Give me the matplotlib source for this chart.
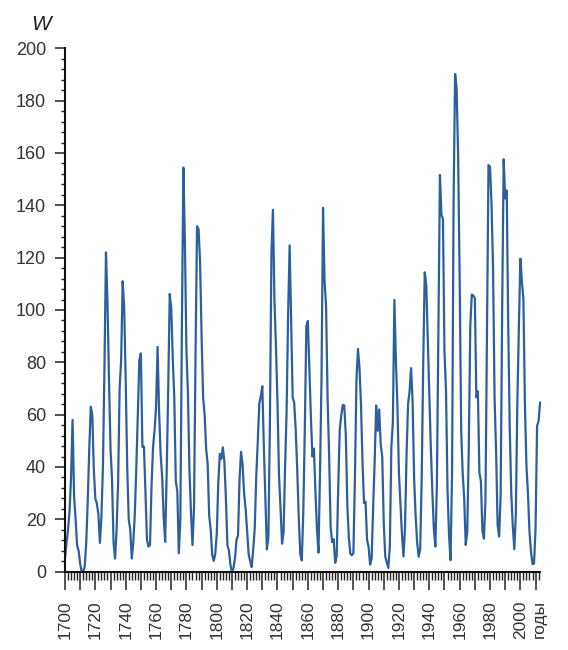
import matplotlib
matplotlib.use("Agg")
import matplotlib.pyplot as plt
from matplotlib.ticker import MultipleLocator, FixedLocator, FixedFormatter

plt.rcParams['font.family'] = ['Liberation Sans', 'DejaVu Sans']

# Yearly Wolf numbers W, 1700-2013
years = list(range(1700, 2014))
wolf = [
    5.0, 11.0, 16.0, 23.0, 36.0, 58.0, 29.0, 20.0, 10.0, 8.0,
    3.0, 0.0, 0.0, 2.0, 11.0, 27.0, 47.0, 63.0, 60.0, 39.0,
    28.0, 26.0, 22.0, 11.0, 21.0, 40.0, 78.0, 122.0, 103.0, 73.0,
    47.0, 35.0, 11.0, 5.0, 16.0, 34.0, 70.0, 81.0, 111.0, 101.0,
    73.0, 40.0, 20.0, 16.0, 5.0, 11.0, 22.0, 40.0, 60.0, 80.9,
    83.4, 47.7, 47.8, 30.7, 12.2, 9.6, 10.2, 32.4, 47.6, 54.0,
    62.9, 85.9, 61.2, 45.1, 36.4, 20.9, 11.4, 37.8, 69.8, 106.1,
    100.8, 81.6, 66.5, 34.8, 30.6, 7.0, 19.8, 92.5, 154.4, 125.9,
    84.8, 68.1, 38.5, 22.8, 10.2, 24.1, 82.9, 132.0, 130.9, 118.1,
    89.9, 66.6, 60.0, 46.9, 41.0, 21.3, 16.0, 6.4, 4.1, 6.8,
    14.5, 34.0, 45.0, 43.1, 47.5, 42.2, 28.1, 10.1, 8.1, 2.5,
    0.0, 1.4, 5.0, 12.2, 13.9, 35.4, 45.8, 41.0, 30.1, 23.9,
    15.6, 6.6, 4.0, 1.8, 8.5, 16.6, 36.3, 49.6, 64.2, 67.0,
    70.9, 47.8, 27.5, 8.5, 13.2, 56.9, 121.5, 138.3, 103.2, 85.7,
    64.6, 36.7, 24.2, 10.7, 15.0, 40.1, 61.5, 98.5, 124.7, 96.3,
    66.6, 64.5, 54.1, 39.0, 20.6, 6.7, 4.3, 22.7, 54.8, 93.8,
    95.8, 77.2, 59.1, 44.0, 47.0, 30.5, 16.3, 7.3, 37.6, 74.0,
    139.0, 111.2, 101.6, 66.2, 44.7, 17.0, 11.3, 12.4, 3.4, 6.0,
    32.3, 54.3, 59.7, 63.7, 63.5, 52.2, 25.4, 13.1, 6.8, 6.3,
    7.1, 35.6, 73.0, 85.1, 78.0, 64.0, 41.8, 26.2, 26.7, 12.1,
    9.5, 2.7, 5.0, 24.4, 42.0, 63.5, 53.8, 62.0, 48.5, 43.9,
    18.6, 5.7, 3.6, 1.4, 9.6, 47.4, 57.1, 103.9, 80.6, 63.6,
    37.6, 26.1, 14.2, 5.8, 16.7, 44.3, 63.9, 69.0, 77.8, 64.9,
    35.7, 21.2, 11.1, 5.7, 8.7, 36.1, 79.7, 114.4, 109.6, 88.8,
    67.8, 47.5, 30.6, 16.3, 9.6, 33.2, 92.6, 151.6, 136.3, 134.7,
    83.9, 69.4, 31.5, 13.9, 4.4, 38.0, 141.7, 190.2, 184.8, 159.0,
    112.3, 53.9, 37.6, 27.9, 10.2, 15.1, 47.0, 93.8, 105.9, 105.5,
    104.5, 66.6, 68.9, 38.0, 34.5, 15.5, 12.6, 27.5, 92.5, 155.4,
    154.7, 140.5, 115.9, 66.6, 45.9, 17.9, 13.4, 29.4, 100.2, 157.6,
    142.6, 145.7, 94.3, 54.6, 29.9, 17.5, 8.6, 21.5, 64.3, 93.3,
    119.6, 111.0, 104.0, 63.7, 40.4, 29.8, 15.2, 7.5, 2.9, 3.1,
    16.5, 55.7, 57.6, 64.7,
]

# decade ticks, labels every 20 years; the last tick carries the unit
x_ticks = list(range(1700, 2011, 10))
x_labels = [str(y) if y % 20 == 0 else "" for y in range(1700, 2011, 10)]
unit_year = 2010
unit_label = "годы"

fig = plt.figure(figsize=(5.68, 6.5), dpi=100)
ax = fig.add_axes([0.1144, 0.1205, 0.8365, 0.8052])

ax.plot(years, wolf, color="#2d5f9e", lw=1.6, clip_on=False,
        solid_joinstyle="round", solid_capstyle="round")

ax.set_xlim(1700, 2013)
ax.set_ylim(0, 200)

for s in ["top", "right"]:
    ax.spines[s].set_visible(False)
for s in ["left", "bottom"]:
    ax.spines[s].set_linewidth(1.5)
    ax.spines[s].set_color("#111111")

ax.yaxis.set_major_locator(MultipleLocator(20))
ax.yaxis.set_minor_locator(MultipleLocator(4))
ax.xaxis.set_major_locator(FixedLocator(x_ticks))
ax.xaxis.set_major_formatter(FixedFormatter(x_labels))
ax.xaxis.set_minor_locator(MultipleLocator(2))

ax.tick_params(axis="both", which="both", direction="out", color="#222222")
ax.tick_params(axis="both", which="major", labelcolor="#333333", width=1.1)
ax.tick_params(axis="y", which="major", length=7.2, pad=6.5, labelsize=13)
ax.tick_params(axis="y", which="minor", length=3.2, width=1.0)
ax.tick_params(axis="x", which="major", length=13, pad=7.5, labelrotation=90,
               labelsize=12.5)
ax.tick_params(axis="x", which="minor", length=5.8, width=1.0)

# unit label under the last tick, nudged a little to the right
ax.annotate(unit_label, xy=(unit_year, 0), xycoords=("data", "axes fraction"),
            xytext=(3, -20.5), textcoords="offset points", rotation=90,
            ha="center", va="top", fontsize=12.5, color="#333333")

fig.text(0.072, 0.963, "W", fontsize=15, style="italic", color="#222222",
         ha="center", va="center")

fig.savefig("out.png", dpi=100, facecolor="white")
plt.close(fig)
